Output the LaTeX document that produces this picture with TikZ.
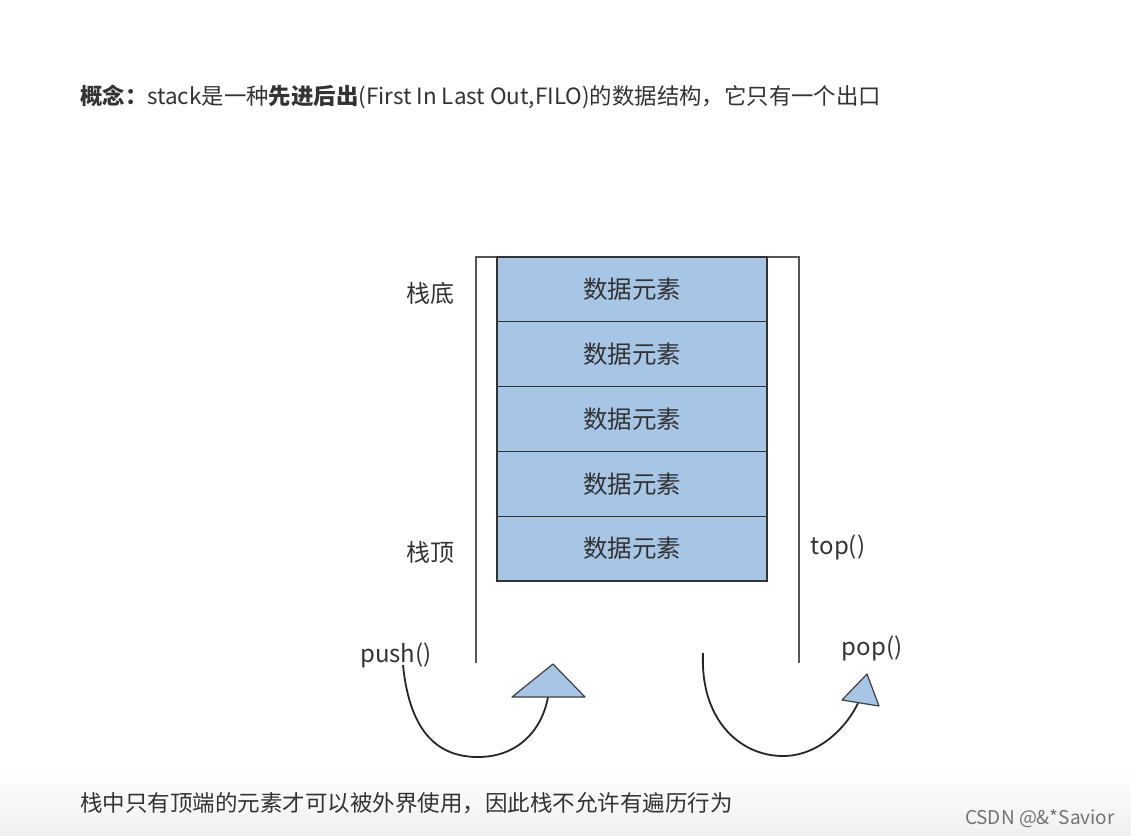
\documentclass[tikz,border=0pt]{standalone}
\usepackage{fontspec}
\setmainfont{Noto Sans CJK SC}
\usetikzlibrary{positioning}
\definecolor{boxfill}{HTML}{A7C5E5}
\definecolor{wall}{HTML}{555555}
\definecolor{txt}{HTML}{333333}
\tikzset{
  elem/.style={draw=black!80, line width=1.3pt, fill=boxfill, minimum width=270pt, minimum height=64.8pt, inner sep=0pt, outer sep=0pt, font=\fontsize{24.5}{28}\selectfont, text=txt},
  lab/.style={font=\fontsize{24}{28}\selectfont, text=txt, inner sep=0pt},
  wallline/.style={draw=wall, line width=1.4pt},
  arcline/.style={draw=black!85, line width=1.8pt},
  tri/.style={draw=black!75, line width=1.2pt, fill=boxfill, line join=round},
}
\begin{document}
\begin{tikzpicture}[x=1pt,y=-1pt]
\useasboundingbox (0,0) rectangle (1131,835);
\fill[white] (0,0) rectangle (1131,835);
\shade[top color=white, bottom color=black!6] (0,770) rectangle (1131,835);
% title
\node[anchor=base west, inner sep=0pt, font=\fontsize{22.4}{26}\selectfont, text=txt] (title) at (80,104)
  {\textbf{概念：}stack是一种\textbf{先进后出}(First In Last Out,FILO)的数据结构，它只有一个出口};
% stack walls
\coordinate (wl) at (476,257);
\coordinate (wr) at (799,257);
\coordinate (wlb) at (476,663);
\coordinate (wrb) at (799,663);
\draw[wallline] (wlb) -- (wl) -- (wr) -- (wrb);
% elements
\node[elem, anchor=north west] (e1) at (497,257) {数据元素};
\node[elem, anchor=north] (e2) at (e1.south) {数据元素};
\node[elem, anchor=north] (e3) at (e2.south) {数据元素};
\node[elem, anchor=north] (e4) at (e3.south) {数据元素};
\node[elem, anchor=north] (e5) at (e4.south) {数据元素};
% labels
\node[lab] (bot) at (430,293) {栈底};
\node[lab] (topl) at (430,552) {栈顶};
\node[lab] (topf) at (838,547) {top()};
\node[lab] (push) at (396,655) {push()};
\node[lab] (pop) at (872,648) {pop()};
% push arc and triangle
\coordinate (ps) at (403,665);
\coordinate (pb) at (478,757);
\coordinate (pe) at (548,697);
\draw[arcline] (ps) .. controls (410,735) and (440,757) .. (pb) .. controls (518,757) and (542,730) .. (pe);
\draw[tri] (512,697) coordinate (pt1) -- (553,664) coordinate (pt2) -- (585,697) coordinate (pt3) -- cycle;
% pop arc and triangle
\coordinate (qs) at (703,653);
\coordinate (qb) at (783,756);
\coordinate (qe) at (858,703);
\draw[arcline] (qs) .. controls (700,720) and (740,756) .. (qb) .. controls (820,756) and (848,725) .. (qe);
\draw[tri] (842,700) coordinate (qt1) -- (867,674) coordinate (qt2) -- (879,706) coordinate (qt3) -- cycle;
% bottom text
\node[anchor=base west, inner sep=0pt, font=\fontsize{22.5}{26}\selectfont, text=txt] (note) at (80,811)
  {栈中只有顶端的元素才可以被外界使用，因此栈不允许有遍历行为};
\node[anchor=base east, inner sep=0pt, font=\fontsize{19}{22}\selectfont, text=black!55] (wm) at (1115,824)
  {CSDN @\&*Savior};
\end{tikzpicture}
\end{document}
